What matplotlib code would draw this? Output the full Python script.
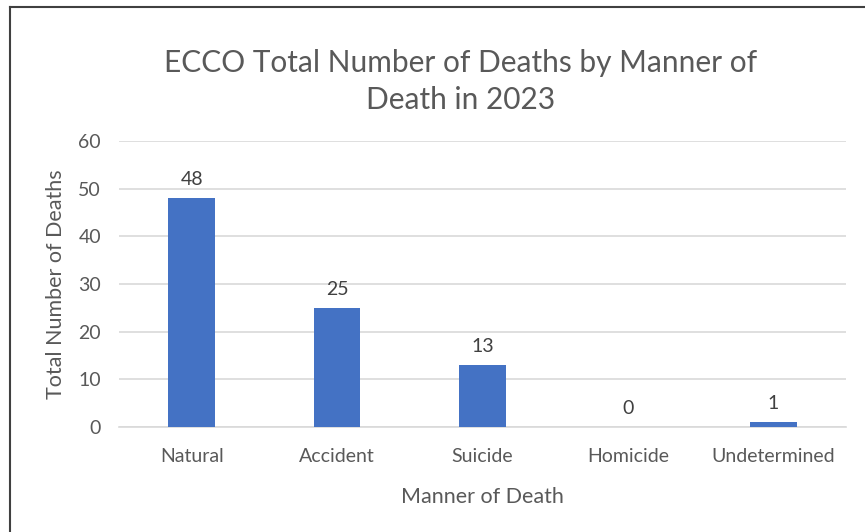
import matplotlib.pyplot as plt
from matplotlib.lines import Line2D

categories = ['Natural', 'Accident', 'Suicide', 'Homicide', 'Undetermined']
deaths = [48, 25, 13, 0, 1]
y_ticks = [0, 10, 20, 30, 40, 50, 60]

TEXT = '#595959'
GRID = '#d9d9d9'
BAR = '#4472C4'

plt.rcParams['font.family'] = ['Lato', 'DejaVu Sans']

fig = plt.figure(figsize=(8.65, 5.32), dpi=100)
ax = fig.add_axes([0.1376, 0.1974, 0.8404, 0.5376])

x = range(len(categories))
bars = ax.bar(x, deaths, width=0.32, color=BAR, zorder=3)

for bar, val in zip(bars, deaths):
    ax.annotate(f'{val}', (bar.get_x() + bar.get_width() / 2, val),
                xytext=(0, 7), textcoords='offset points',
                ha='center', va='bottom', fontsize=14, color='#404040')

ax.set_xlim(-0.5, len(categories) - 0.5)
ax.set_ylim(0, 60)
ax.set_yticks(y_ticks)
ax.set_xticks(list(x))
ax.set_xticklabels(categories)
ax.tick_params(length=0, labelsize=14, labelcolor=TEXT)
ax.tick_params(axis='y', pad=13)
ax.tick_params(axis='x', pad=15)
ax.grid(axis='y', color=GRID, linewidth=1.2, zorder=0)
for side in ['top', 'right', 'left']:
    ax.spines[side].set_visible(False)
ax.spines['bottom'].set_color(GRID)
ax.spines['bottom'].set_linewidth(1.2)

ax.set_ylabel('Total Number of Deaths', fontsize=15.5, color=TEXT, labelpad=9)
ax.set_xlabel('Manner of Death', fontsize=15.5, color=TEXT, labelpad=16)

fig.text(0.532, 0.847, 'ECCO Total Number of Deaths by Manner of\nDeath in 2023',
         ha='center', va='center', fontsize=21.5, color=TEXT, linespacing=1.38)

# partial frame like the screenshot
fig.add_artist(Line2D([0.0115, 0.0115], [0, 0.986], color='#404040', lw=1.5,
                      transform=fig.transFigure))
fig.add_artist(Line2D([0.0115, 1], [0.986, 0.986], color='#404040', lw=1.5,
                      transform=fig.transFigure))

fig.savefig('out.png', dpi=100)
